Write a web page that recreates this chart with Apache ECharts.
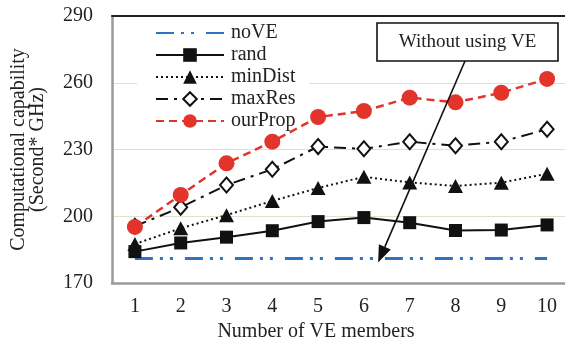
<!DOCTYPE html>
<html>
<head>
<meta charset="utf-8">
<script src="https://cdn.jsdelivr.net/npm/echarts@6/dist/echarts.min.js"></script>
<style>
  html, body { margin: 0; padding: 0; background: #fff; }
  #chart { width: 565px; height: 340px; }
</style>
</head>
<body>
<div id="chart"></div>
<script>
// Number of VE members on the x axis
const members = ['1', '2', '3', '4', '5', '6', '7', '8', '9', '10'];

// Computational capability (Second* GHz) per strategy
const noVE    = [181, 181, 181, 181, 181, 181, 181, 181, 181, 181];
const rand    = [184.1, 188.0, 190.6, 193.5, 197.6, 199.4, 197.1, 193.6, 193.8, 196.1];
const minDist = [187.5, 194.6, 200.5, 206.9, 212.7, 217.7, 215.2, 213.6, 215.1, 219.1];
const maxRes  = [195.5, 204.0, 214.0, 221.1, 231.3, 230.3, 233.5, 231.7, 233.5, 239.1];
const ourProp = [195.2, 209.6, 223.8, 233.5, 244.6, 247.3, 253.3, 251.2, 255.5, 261.7];

// Value axis range
const yMin = 170, yMax = 290, yStep = 30;

const FONT = 'Liberation Serif';
const RED = '#e2342a';
const BLUE = '#2e74c2';
const INK = '#222';

const chart = echarts.init(document.getElementById('chart'), null, { renderer: 'canvas' });

const option = {
  animation: false,
  backgroundColor: '#fff',
  textStyle: { fontFamily: FONT, color: INK },
  grid: { left: 112, top: 16, width: 458, height: 267, containLabel: false, outerBoundsMode: 'none' },
  legend: {
    orient: 'vertical',
    left: 137,
    top: 20,
    padding: [2, 14, 6, 18],
    backgroundColor: '#fff',
    itemWidth: 68,
    itemHeight: 17,
    itemGap: 0,
    textStyle: { fontFamily: FONT, fontSize: 20, lineHeight: 22, color: INK, padding: [0, 0, 0, 2] },
    data: [
      { name: 'noVE', itemStyle: { opacity: 0 } },
      'rand', 'minDist', 'maxRes', 'ourProp'
    ]
  },
  xAxis: [{
    type: 'category',
    data: members,
    boundaryGap: true,
    axisLine: { lineStyle: { color: '#9a9a9a', width: 2.5 } },
    axisTick: { show: false },
    axisLabel: { fontFamily: FONT, fontSize: 20, color: INK, margin: 14 },
    name: 'Number of VE members',
    nameLocation: 'middle',
    nameGap: 31,
    nameTextStyle: { fontFamily: FONT, fontSize: 20, color: INK, padding: [0, 50, 0, 0] },
    splitLine: { show: false }
  }, {
    // dark frame line along the top of the plot
    type: 'category',
    data: members,
    position: 'top',
    z: 5,
    axisLine: { lineStyle: { color: '#222', width: 2 } },
    axisTick: { show: false },
    axisLabel: { show: false },
    splitLine: { show: false }
  }],
  yAxis: {
    type: 'value',
    min: yMin,
    max: yMax,
    interval: yStep,
    axisLine: { show: true, lineStyle: { color: '#9a9a9a', width: 2.5 } },
    axisTick: { show: false },
    axisLabel: { fontFamily: FONT, fontSize: 20, color: INK, margin: 19 },
    splitLine: { show: true, lineStyle: { color: '#e2dfcf', width: 1 } },
    name: 'Computational capability\n(Second* GHz)',
    nameLocation: 'middle',
    nameRotate: 90,
    nameGap: 65,
    nameTextStyle: { fontFamily: FONT, fontSize: 20, lineHeight: 19, color: INK, align: 'center' }
  },
  series: [
    {
      name: 'noVE', type: 'line', data: noVE, symbol: 'none',
      lineStyle: { color: BLUE, width: 3, type: [18, 7, 3, 7, 3, 12] },
      itemStyle: { color: BLUE }, z: 2
    },
    {
      name: 'rand', type: 'line', data: rand, symbol: 'rect', symbolSize: 13,
      lineStyle: { color: '#111', width: 2 },
      itemStyle: { color: '#111' }, z: 3
    },
    {
      name: 'minDist', type: 'line', data: minDist, symbol: 'triangle', symbolSize: [15, 14],
      lineStyle: { color: '#111', width: 2, type: [2, 3] },
      itemStyle: { color: '#111' }, z: 3
    },
    {
      name: 'maxRes', type: 'line', data: maxRes, symbol: 'diamond', symbolSize: [13, 15],
      lineStyle: { color: '#111', width: 2, type: [12, 6, 3, 6] },
      itemStyle: { color: '#fff', borderColor: '#111', borderWidth: 2 }, z: 3
    },
    {
      name: 'ourProp', type: 'line', data: ourProp, symbol: 'circle', symbolSize: 16,
      lineStyle: { color: RED, width: 2.5, type: [8, 5] },
      itemStyle: { color: RED }, z: 4
    }
  ]
};

chart.setOption(option);

// Annotation box with an arrow pointing at the noVE baseline
const p6 = chart.convertToPixel({ gridIndex: 0 }, [5, noVE[5]]);
const p7 = chart.convertToPixel({ gridIndex: 0 }, [6, noVE[6]]);
const tip = [p6[0] + (p7[0] - p6[0]) * 0.31, p6[1] + 4];
const box = { x: 377, y: 23, w: 181, h: 38 };
const start = [465, box.y + box.h];
const dx = tip[0] - start[0], dy = tip[1] - start[1];
const len = Math.sqrt(dx * dx + dy * dy);
const ux = dx / len, uy = dy / len;
const headLen = 17, headHalf = 6.5;
const base = [tip[0] - ux * headLen, tip[1] - uy * headLen];

chart.setOption({
  graphic: [
    {
      type: 'line', z: 20,
      shape: { x1: start[0], y1: start[1], x2: base[0], y2: base[1] },
      style: { stroke: '#111', lineWidth: 1.6 }
    },
    {
      type: 'polygon', z: 20,
      shape: { points: [
        tip,
        [base[0] - uy * headHalf, base[1] + ux * headHalf],
        [base[0] + uy * headHalf, base[1] - ux * headHalf]
      ] },
      style: { fill: '#111' }
    },
    {
      type: 'rect', z: 21,
      shape: { x: box.x, y: box.y, width: box.w, height: box.h },
      style: { fill: '#fff', stroke: '#111', lineWidth: 1.6 }
    },
    {
      type: 'text', z: 22,
      x: box.x + box.w / 2, y: box.y + box.h / 2,
      style: {
        text: 'Without using VE', fontFamily: FONT, fontSize: 19, fill: INK,
        align: 'center', verticalAlign: 'middle'
      }
    }
  ]
});
</script>
</body>
</html>
